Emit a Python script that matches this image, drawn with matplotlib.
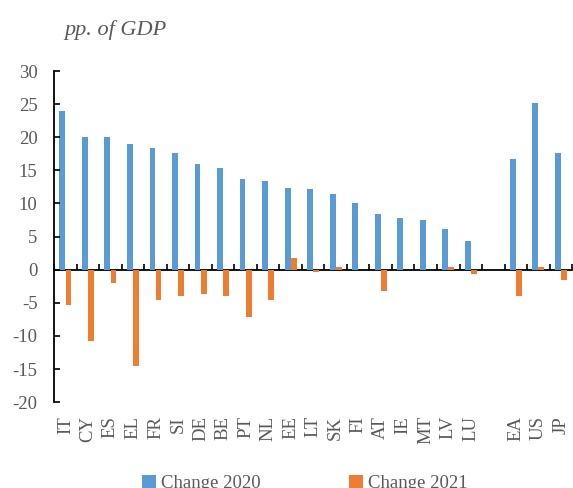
"""Fiscal balance changes 2020/2021 by country, pp. of GDP."""

import matplotlib

matplotlib.use("Agg")
import matplotlib.pyplot as plt
import numpy as np

countries = ["IT", "CY", "ES", "EL", "FR", "SI", "DE", "BE", "PT", "NL", "EE",
             "LT", "SK", "FI", "AT", "IE", "MT", "LV", "LU", "", "EA", "US", "JP"]
change_2020 = [24.0, 20.1, 20.1, 19.0, 18.4, 17.6, 15.9, 15.4, 13.7, 13.4, 12.3,
               12.2, 11.4, 10.0, 8.4, 7.8, 7.5, 6.1, 4.4, np.nan, 16.7, 25.1, 17.6]
change_2021 = [-5.4, -10.7, -2.0, -14.6, -4.6, -4.0, -3.7, -4.0, -7.1, -4.6, 1.8,
               -0.4, 0.4, -0.1, -3.2, -0.1, -0.1, 0.4, -0.7, np.nan, -4.0, 0.4, -1.5]

BLUE = "#5B9BD5"
ORANGE = "#ED7D31"
GREY = "#595959"

plt.rcParams["font.family"] = ["Liberation Serif", "DejaVu Serif"]
plt.rcParams["axes.unicode_minus"] = False

fig = plt.figure(figsize=(5.73, 4.88), dpi=100)
ax = fig.add_axes([0.0945, 0.176, 0.904, 0.6785])

x = np.arange(len(countries))
w = 0.26
ax.bar(x - 0.135, change_2020, width=w, color=BLUE, label="Change 2020")
ax.bar(x + 0.135, change_2021, width=w, color=ORANGE, label="Change 2021")

ax.set_xlim(-0.5, len(countries) - 0.5)
ax.set_ylim(-20, 30)
ax.set_yticks(np.arange(-20, 31, 5))
ax.tick_params(axis="y", direction="in", length=4.5, width=1.2, pad=12,
               labelsize=13.5, labelcolor=GREY)

# category labels at the bottom, zero line with boundary ticks
ax.set_xticks(x)
ax.set_xticklabels(countries, rotation=90)
ax.tick_params(axis="x", length=0, pad=10, labelsize=13.5, labelcolor=GREY)
for side in ["top", "right", "bottom"]:
    ax.spines[side].set_visible(False)
ax.spines["left"].set_linewidth(1.3)

zero = ax.secondary_xaxis(0.4)
zero.set_xticks(np.arange(-0.5, len(countries), 1.0))
zero.tick_params(direction="in", length=4.5, width=1.2, labelbottom=False)
zero.spines["bottom"].set_linewidth(1.3)

fig.text(0.113, 1 - 35 / 488, "pp. of GDP", style="italic", fontsize=16,
         color=GREY, ha="left", va="baseline")

fig.legend(loc="upper center", bbox_to_anchor=(0.532, 0.062), ncol=2,
           frameon=False, fontsize=13.5, labelcolor=GREY, handlelength=0.75,
           handleheight=0.75, handletextpad=0.25, columnspacing=4.7)

fig.savefig("out.png", dpi=100)
